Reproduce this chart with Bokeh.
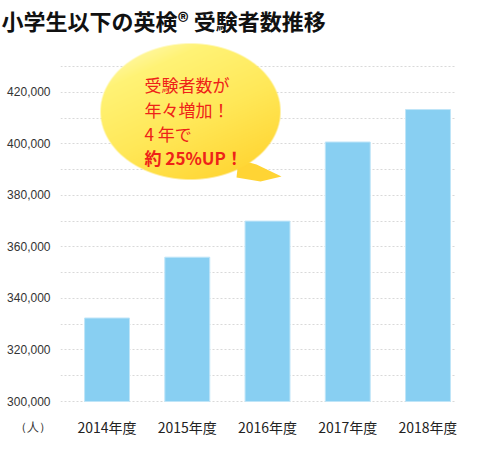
import numpy as np
from bokeh.plotting import figure
from bokeh.models import FixedTicker, Label, NumeralTickFormatter
from bokeh.core.properties import value
from bokeh.embed import file_html
from bokeh.resources import INLINE

# data
years = ["2014年度", "2015年度", "2016年度", "2017年度", "2018年度"]
examinees = [332400, 356000, 370000, 400700, 413300]
y_ticks = [300000, 320000, 340000, 360000, 380000, 400000, 420000]
y_minor = [310000, 330000, 350000, 370000, 390000, 410000, 430000]
unit_label = "（人）"
title = "小学生以下の英検® 受験者数推移"
bubble_lines = ["受験者数が", "年々増加！", "4 年で"]
bubble_last = "約 25%UP！"

JP = "Noto Sans CJK JP"
BASE = 300000
ROW = 290000          # value level of the category labels / unit label
PX = 130000 / 335     # value per pixel

X0, X1 = -0.58, 4.355
Y0, Y1 = BASE - 43 * PX, BASE + 365 * PX

p = figure(width=466, height=440, output_backend="svg", toolbar_location=None,
           x_range=(X0, X1), y_range=(Y0, Y1),
           frame_width=396, frame_height=408,
           min_border_left=60, min_border_right=10,
           min_border_top=24, min_border_bottom=3,
           x_axis_location=None)
p.outline_line_color = None


# page pixel -> data helpers (frame: x 62..458, value 300000 at page y 402)
def dx(px):
    return X0 + (px - 62) / 396 * (X1 - X0)


def dy(py):
    return BASE + (402 - py) * PX


xs = list(range(len(years)))
p.vbar(x=xs, top=examinees, bottom=BASE, width=0.56,
       fill_color="#88cff2", line_color="#bfe5f8", line_width=1)

# category labels
p.text(x=xs, y=[ROW] * len(xs), text=years, text_font=value(JP),
       text_font_size="14px", text_color="#222222",
       text_align="center", text_baseline="middle")

# y axis (the unit label sits on it as an extra tick)
p.yaxis.ticker = FixedTicker(ticks=[ROW] + y_ticks)
p.yaxis.formatter = NumeralTickFormatter(format="0,0")
p.yaxis.major_label_overrides = {ROW: unit_label}
p.yaxis.axis_line_color = None
p.yaxis.major_tick_line_color = None
p.yaxis.minor_tick_line_color = None
p.yaxis.major_tick_out = 0
p.yaxis.minor_tick_out = 0
p.yaxis.major_label_standoff = 10
p.yaxis.major_label_text_font = "Liberation Sans"
p.yaxis.major_label_text_font_size = "12px"
p.yaxis.major_label_text_color = "#333333"

p.xgrid.grid_line_color = None
p.ygrid.ticker = FixedTicker(ticks=y_ticks, minor_ticks=y_minor)
p.ygrid.grid_line_color = "#d9d9d9"
p.ygrid.grid_line_dash = "2 2"
p.ygrid.minor_grid_line_color = "#d9d9d9"
p.ygrid.minor_grid_line_dash = "2 2"

# title
p.title.text = title
p.title.align = "left"
p.title.offset = -59
p.title.standoff = 2
p.title.text_font = JP
p.title.text_font_size = "22px"
p.title.text_font_style = "bold"
p.title.text_color = "#111111"

# speech bubble: tail, then an ellipse image with a diagonal yellow gradient
p.patch(x=[dx(240), dx(258), dx(283), dx(262), dx(238)],
        y=[dy(160), dy(165), dy(177), dy(182), dy(178)],
        fill_color="#ffd434", line_color=None)

bl, bt, bw, bh = 102, 44, 180, 136
gy, gx = np.mgrid[0:bh, 0:bw] + 0.5
a, b = bw / 2, bh / 2
d = np.sqrt(((gx - a) / a) ** 2 + ((gy - b) / b) ** 2)
alpha = np.clip((1 - d) * 75 + 0.5, 0, 1)
t = np.clip((0.45 * gx + gy) / (0.45 * bw + bh), 0, 1)
stops = [0.0, 0.22, 0.55, 1.0]
reds = [255, 255, 255, 255]
greens = [252, 243, 232, 208]
blues = [205, 118, 88, 40]
img = np.zeros((bh, bw), dtype=np.uint32)
view = img.view(dtype=np.uint8).reshape((bh, bw, 4))
view[..., 0] = np.interp(t, stops, reds).astype(np.uint8)
view[..., 1] = np.interp(t, stops, greens).astype(np.uint8)
view[..., 2] = np.interp(t, stops, blues).astype(np.uint8)
view[..., 3] = (alpha * 255).astype(np.uint8)
p.image_rgba(image=[np.flipud(img)], x=dx(bl), y=dy(bt + bh),
             dw=dx(bl + bw) - dx(bl), dh=dy(bt) - dy(bt + bh))

for i, line in enumerate(bubble_lines):
    p.add_layout(Label(x=dx(146), y=dy(85 + 24.5 * i), text=line,
                       text_font=JP, text_font_size="17px", text_color="#ee2218",
                       text_baseline="middle", text_align="left"))
p.add_layout(Label(x=dx(146), y=dy(158), text=bubble_last,
                   text_font=JP, text_font_size="17px", text_font_style="bold",
                   text_color="#ee2218", text_baseline="middle", text_align="left"))

open("out.html", "w").write(file_html(p, INLINE))
